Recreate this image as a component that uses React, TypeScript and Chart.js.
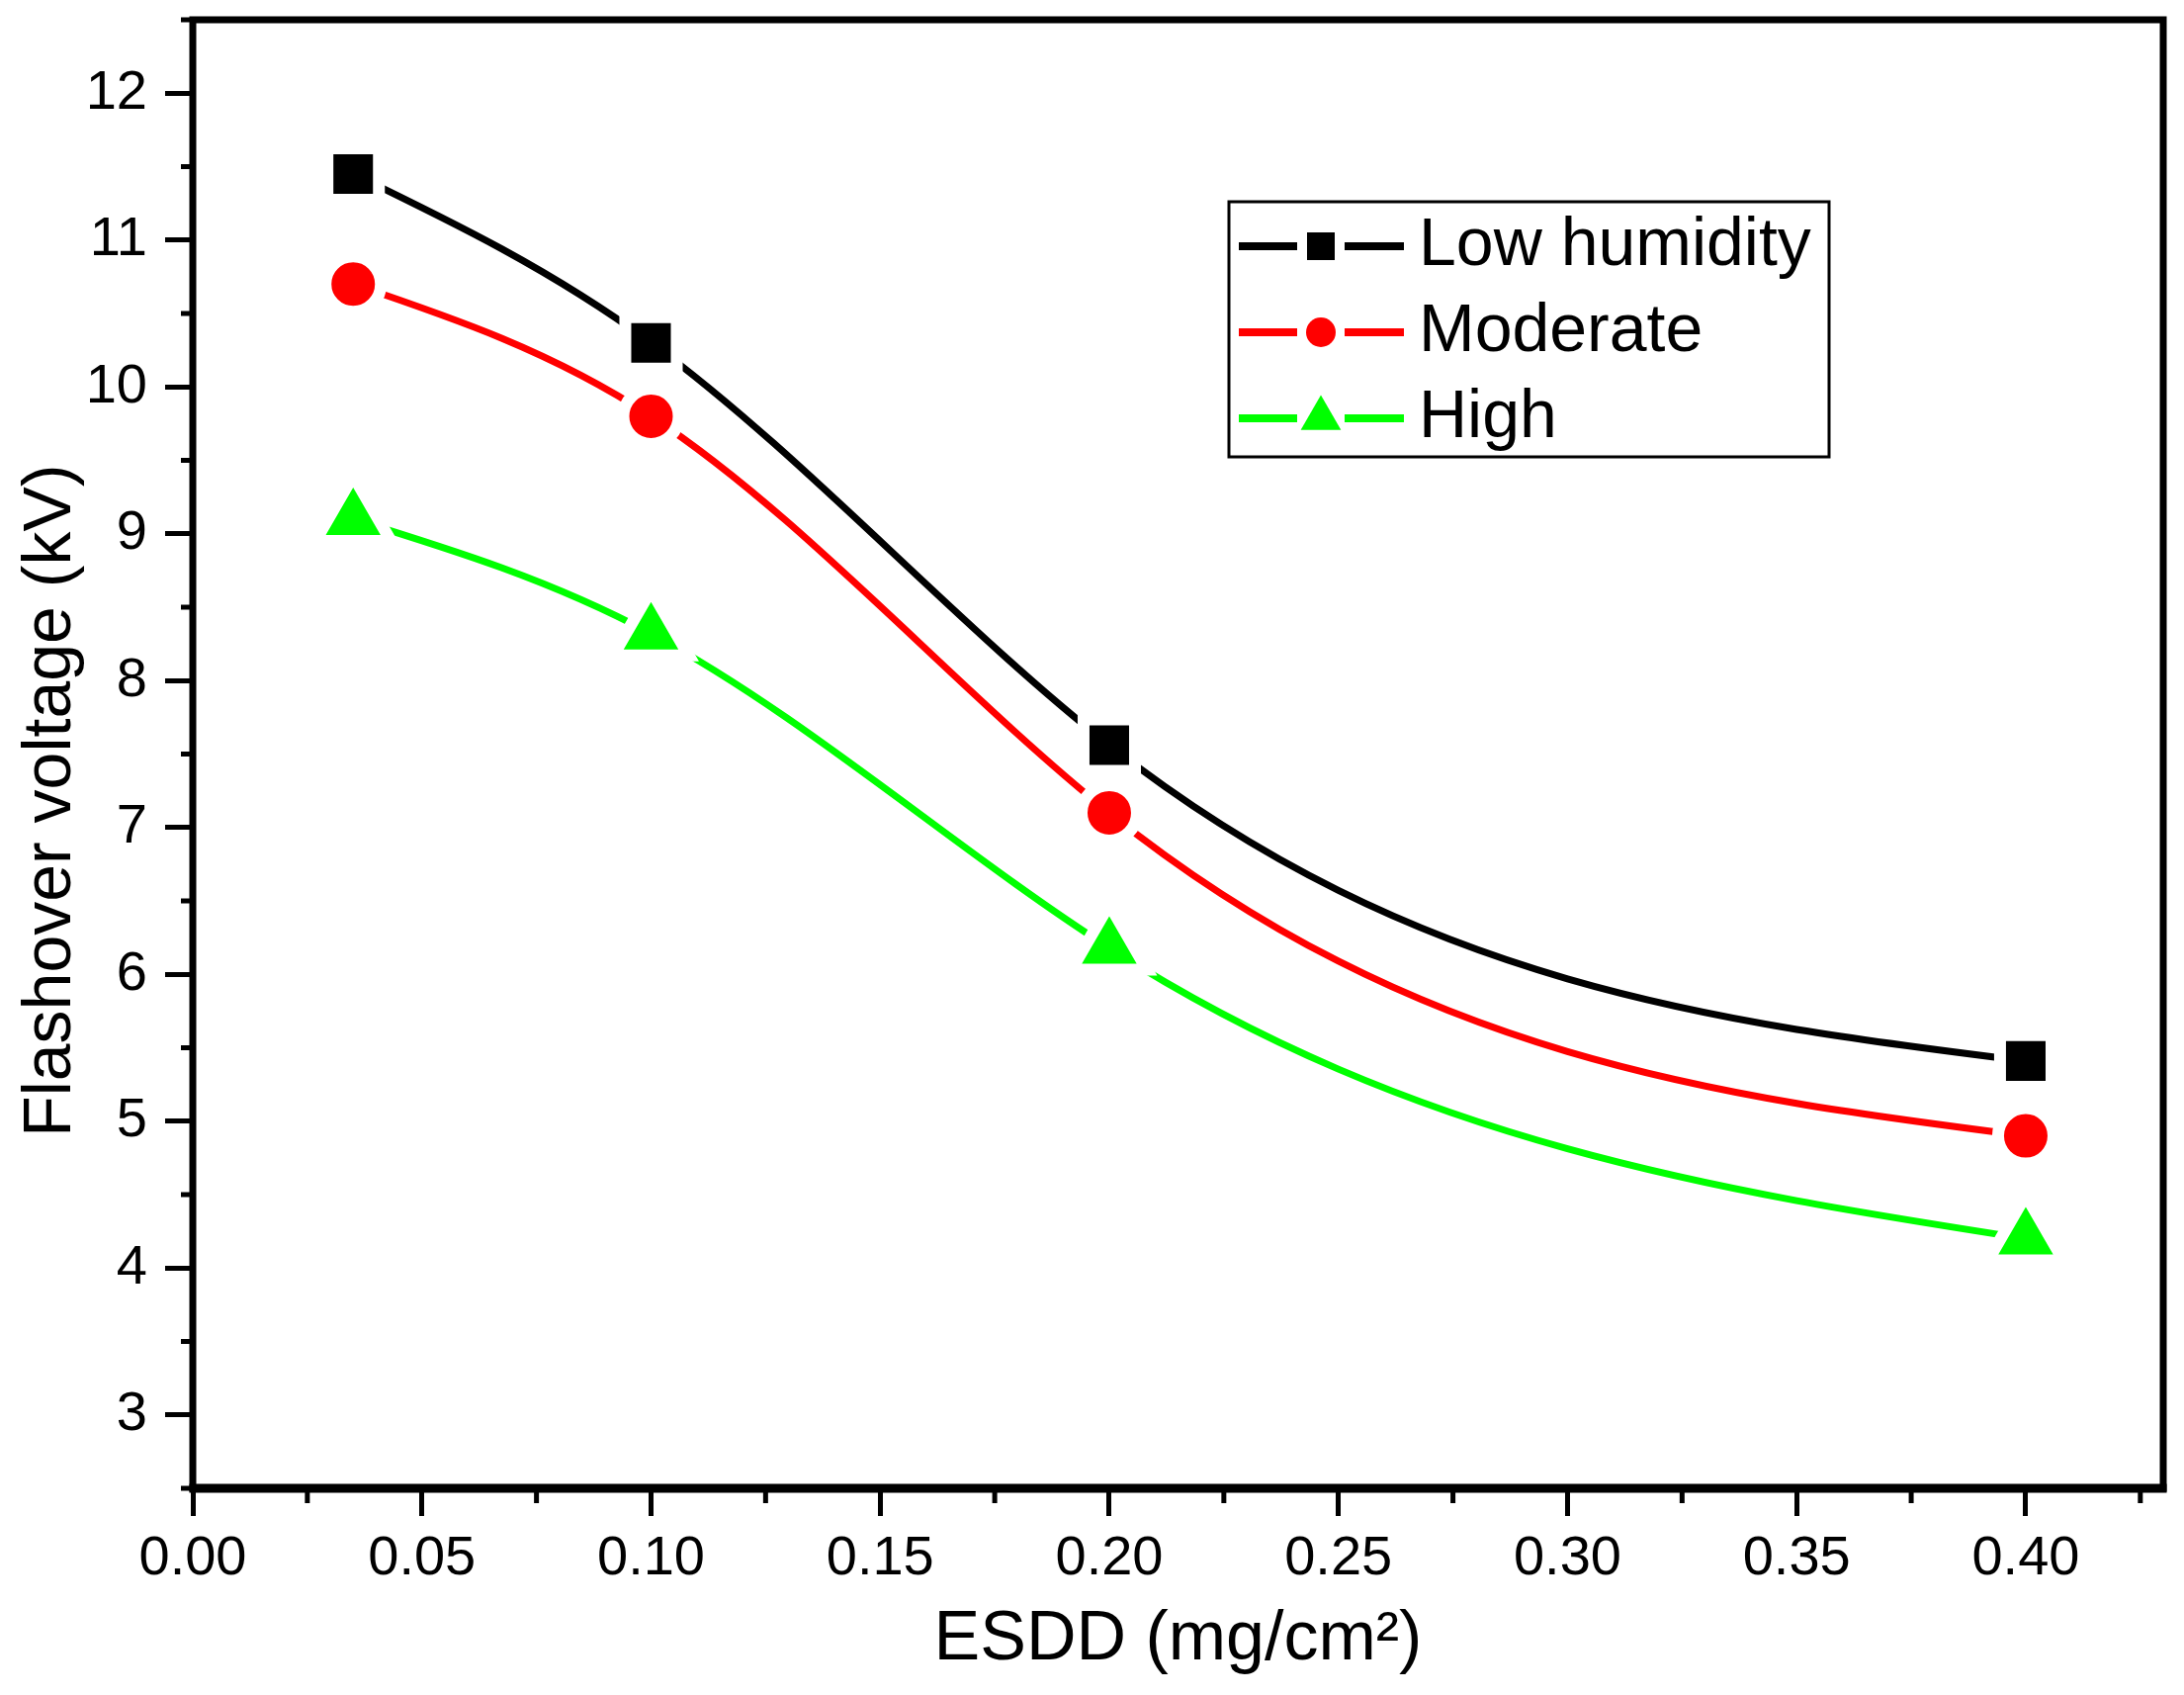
import React, { useEffect, useRef } from 'react';
import { Chart, registerables } from 'chart.js';

Chart.register(...registerables);

// ---- data ----
const esdd = [0.035, 0.1, 0.2, 0.4];
const lowHumidity = [11.45, 10.3, 7.56, 5.41];
const moderate = [10.7, 9.8, 7.1, 4.9];
const high = [9.1, 8.32, 6.18, 4.2];

const seriesLabels = ['Low humidity', 'Moderate', 'High'];
const seriesColors = ['#000000', '#ff0000', '#00ff00'];
const seriesMarkers = ['rect', 'circle', 'triangle'];

const xTicks = [0, 0.05, 0.1, 0.15, 0.2, 0.25, 0.3, 0.35, 0.4];
const xMinorTicks = [0.025, 0.075, 0.125, 0.175, 0.225, 0.275, 0.325, 0.375, 0.425];
const yTicks = [3, 4, 5, 6, 7, 8, 9, 10, 11, 12];
const yMinorTicks = [2.5, 3.5, 4.5, 5.5, 6.5, 7.5, 8.5, 9.5, 10.5, 11.5, 12.5];

const xTitle = 'ESDD (mg/cm²)';
const yTitle = 'Flashover voltage (kV)';

const FONT = "'Liberation Sans', Arial, sans-serif";

const W = 2209;
const H = 1714;

// Natural cubic spline (as used by the original plotting program), expressed as
// Bezier control points on Chart.js's own line elements.
function naturalSpline(xv: number[], yv: number[]) {
  const n = xv.length;
  const h: number[] = [];
  const d: number[] = [];
  for (let i = 0; i < n - 1; i++) {
    h[i] = xv[i + 1] - xv[i];
    d[i] = (yv[i + 1] - yv[i]) / h[i];
  }
  const M = new Array(n).fill(0);
  if (n > 2) {
    const a: number[] = [];
    const b: number[] = [];
    const c: number[] = [];
    const r: number[] = [];
    for (let i = 1; i < n - 1; i++) {
      a.push(h[i - 1]);
      b.push(2 * (h[i - 1] + h[i]));
      c.push(h[i]);
      r.push(6 * (d[i] - d[i - 1]));
    }
    const m = b.length;
    for (let i = 1; i < m; i++) {
      const w = a[i] / b[i - 1];
      b[i] -= w * c[i - 1];
      r[i] -= w * r[i - 1];
    }
    const sol = new Array(m);
    sol[m - 1] = r[m - 1] / b[m - 1];
    for (let i = m - 2; i >= 0; i--) sol[i] = (r[i] - c[i] * sol[i + 1]) / b[i];
    for (let i = 0; i < m; i++) M[i + 1] = sol[i];
  }
  return { h, d, M };
}

const splinePlugin = {
  id: 'naturalSpline',
  beforeDatasetDraw(chart: any, args: any) {
    const meta = args.meta;
    const line = meta.dataset;
    const pts = meta.data;
    if (!line || !pts || pts.length < 2) return;
    line.updateControlPoints(chart.chartArea, 'x');
    const raw = chart.data.datasets[args.index].data as { x: number; y: number }[];
    const xv = raw.map((p) => p.x);
    const yv = raw.map((p) => p.y);
    const { h, d, M } = naturalSpline(xv, yv);
    const xs = chart.scales.x;
    const ys = chart.scales.y;
    const n = pts.length;
    pts[0].cp1x = pts[0].x;
    pts[0].cp1y = pts[0].y;
    pts[n - 1].cp2x = pts[n - 1].x;
    pts[n - 1].cp2y = pts[n - 1].y;
    for (let i = 0; i < n - 1; i++) {
      const s0 = d[i] - (h[i] * (2 * M[i] + M[i + 1])) / 6;
      const s1 = d[i] + (h[i] * (M[i] + 2 * M[i + 1])) / 6;
      const t = h[i] / 3;
      pts[i].cp2x = xs.getPixelForValue(xv[i] + t);
      pts[i].cp2y = ys.getPixelForValue(yv[i] + t * s0);
      pts[i + 1].cp1x = xs.getPixelForValue(xv[i + 1] - t);
      pts[i + 1].cp1y = ys.getPixelForValue(yv[i + 1] - t * s1);
    }
    line._pointsUpdated = true;
    line._path = undefined;
  },
};

const framePlugin = {
  id: 'frameAndMinorTicks',
  afterDraw(chart: any) {
    const { ctx, chartArea } = chart;
    const { left, right, top, bottom } = chartArea;
    const xs = chart.scales.x;
    const ys = chart.scales.y;
    ctx.save();
    ctx.strokeStyle = '#000';
    ctx.lineWidth = 5;
    ctx.beginPath();
    xMinorTicks.forEach((v) => {
      const px = xs.getPixelForValue(v);
      ctx.moveTo(px, bottom);
      ctx.lineTo(px, bottom + 15);
    });
    yMinorTicks.forEach((v) => {
      const py = ys.getPixelForValue(v);
      ctx.moveTo(left, py);
      ctx.lineTo(left - 12, py);
    });
    ctx.stroke();
    ctx.lineJoin = 'miter';
    ctx.lineWidth = 7;
    ctx.strokeRect(left, top, right - left, bottom - top);
    ctx.lineWidth = 9;
    ctx.beginPath();
    ctx.moveTo(left - 3.5, bottom);
    ctx.lineTo(right + 3.5, bottom);
    ctx.stroke();
    ctx.restore();
  },
};

const legendPlugin = {
  id: 'insideLegend',
  afterDraw(chart: any) {
    const { ctx, chartArea } = chart;
    const bx = chartArea.left + 1048;
    const by = chartArea.top + 184;
    const bw = 607;
    const bh = 258;
    const rowY = [by + 45, by + 132, by + 219];
    const lineX0 = bx + 10;
    const lineX1 = bx + 177;
    const mx = bx + 93;
    const gap = 24;
    ctx.save();
    ctx.lineWidth = 3;
    ctx.strokeStyle = '#000';
    ctx.strokeRect(bx, by, bw, bh);
    chart.data.datasets.forEach((ds: any, i: number) => {
      const y = rowY[i];
      const c = seriesColors[i];
      ctx.strokeStyle = c;
      ctx.fillStyle = c;
      ctx.lineWidth = 8;
      ctx.lineCap = 'butt';
      ctx.beginPath();
      ctx.moveTo(lineX0, y);
      ctx.lineTo(mx - gap, y);
      ctx.moveTo(mx + gap, y);
      ctx.lineTo(lineX1, y);
      ctx.stroke();
      const m = seriesMarkers[i];
      ctx.beginPath();
      if (m === 'rect') {
        ctx.rect(mx - 14, y - 14, 28, 28);
      } else if (m === 'circle') {
        ctx.arc(mx, y, 15, 0, Math.PI * 2);
      } else {
        const r = 23.5;
        ctx.moveTo(mx, y - r);
        ctx.lineTo(mx + r * Math.cos(Math.PI / 6), y + r / 2);
        ctx.lineTo(mx - r * Math.cos(Math.PI / 6), y + r / 2);
        ctx.closePath();
      }
      ctx.fill();
      ctx.fillStyle = '#000';
      ctx.font = `68px ${FONT}`;
      ctx.textBaseline = 'middle';
      ctx.textAlign = 'left';
      ctx.fillText(ds.label, bx + 192, y);
    });
    ctx.restore();
  },
};

function makeDataset(label: string, values: number[], idx: number) {
  const radii = [36.8, 28, 44];
  return {
    label,
    data: esdd.map((x, i) => ({ x, y: values[i] })),
    borderColor: seriesColors[idx],
    backgroundColor: seriesColors[idx],
    borderWidth: 7,
    borderCapStyle: 'butt',
    borderJoinStyle: 'round',
    cubicInterpolationMode: 'monotone',
    capBezierPoints: false,
    pointStyle: seriesMarkers[idx],
    pointRadius: radii[idx],
    pointHoverRadius: radii[idx],
    pointBackgroundColor: seriesColors[idx],
    pointBorderColor: '#ffffff',
    pointBorderWidth: 12,
    pointHoverBorderWidth: 12,
    order: 3 - idx,
    fill: false,
  };
}

const zeroPadding = () => ({ left: 0, top: 0, right: 0, bottom: 0 });

export default function App() {
  const ref = useRef<HTMLCanvasElement>(null);

  useEffect(() => {
    const canvas = ref.current;
    if (!canvas) return;
    Chart.defaults.color = '#000';
    Chart.defaults.font.family = FONT;

    const chart = new Chart(canvas, {
      type: 'line',
      data: {
        datasets: [
          makeDataset(seriesLabels[0], lowHumidity, 0),
          makeDataset(seriesLabels[1], moderate, 1),
          makeDataset(seriesLabels[2], high, 2),
        ] as any,
      },
      options: {
        responsive: false,
        animation: false,
        devicePixelRatio: 1,
        layout: { autoPadding: false, padding: { top: 20, right: 21, left: 0, bottom: 0 } },
        plugins: {
          legend: { display: false },
          tooltip: { enabled: false },
        },
        events: [],
        scales: {
          x: {
            type: 'linear',
            min: 0,
            max: 0.43,
            afterBuildTicks: (scale: any) => {
              scale.ticks = xTicks.map((v) => ({ value: v }));
            },
            afterFit: (scale: any) => {
              scale.height = 209;
              scale.paddingLeft = 0;
              scale.paddingRight = 0;
              scale.paddingTop = 0;
              scale.paddingBottom = 0;
              scale.getPadding = zeroPadding;
            },
            border: { display: false },
            grid: {
              drawOnChartArea: false,
              drawTicks: true,
              tickLength: 28,
              tickWidth: 5,
              tickColor: '#000',
            },
            ticks: {
              autoSkip: false,
              maxRotation: 0,
              padding: 10,
              color: '#000',
              font: { family: FONT, size: 56 },
              callback: (v: any) => Number(v).toFixed(2),
            },
            title: {
              display: true,
              text: xTitle,
              color: '#000',
              font: { family: FONT, size: 70 },
              padding: { top: 0, bottom: 13 },
            },
          },
          y: {
            type: 'linear',
            min: 2.5,
            max: 12.5,
            afterBuildTicks: (scale: any) => {
              scale.ticks = yTicks.map((v) => ({ value: v }));
            },
            afterFit: (scale: any) => {
              scale.width = 195;
              scale.paddingLeft = 0;
              scale.paddingRight = 0;
              scale.paddingTop = 0;
              scale.paddingBottom = 0;
              scale.getPadding = zeroPadding;
            },
            border: { display: false },
            grid: {
              drawOnChartArea: false,
              drawTicks: true,
              tickLength: 28,
              tickWidth: 5,
              tickColor: '#000',
            },
            ticks: {
              autoSkip: false,
              padding: 18,
              color: '#000',
              font: { family: FONT, size: 56 },
              callback: (v: any) => String(v),
            },
            title: {
              display: true,
              text: yTitle + '     ',
              color: '#000',
              font: { family: FONT, size: 68 },
              padding: { top: 11, bottom: 0 },
            },
          },
        },
      } as any,
      plugins: [splinePlugin, framePlugin, legendPlugin],
    });

    return () => chart.destroy();
  }, []);

  return (
    <div style={{ position: 'absolute', left: 0, top: 0, width: W, height: H, background: '#fff' }}>
      <canvas ref={ref} width={W} height={H} style={{ width: W, height: H, display: 'block' }} />
    </div>
  );
}
